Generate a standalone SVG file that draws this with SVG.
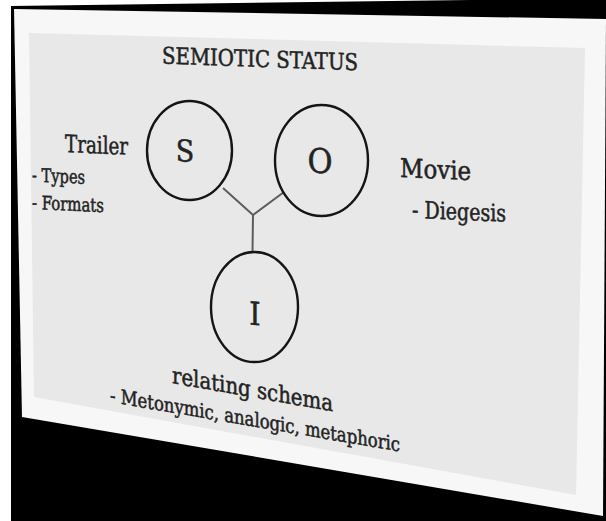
<svg xmlns="http://www.w3.org/2000/svg" width="606" height="521" viewBox="0 0 606 521">
  <defs>
    <style>
      .t { font-family: "DejaVu Serif Condensed", "DejaVu Serif", "Liberation Serif", serif; font-stretch: condensed; fill: #232323; stroke: #232323; stroke-width: 0.5; }
      .ring { fill: none; stroke: #151515; stroke-width: 2.4; }
      .link { fill: none; stroke: #5c5c5c; stroke-width: 2; }
    </style>
  </defs>

  <!-- backdrop and tilted slide -->
  <rect width="606" height="521" fill="#ffffff"/>
  <polygon points="11,6 470,0 606,0 606,521 11,521" fill="#000000"/>
  <polygon id="slide-frame" points="14,9 606,19 603,516 22,417" fill="#f7f7f7"/>
  <polygon id="slide-face" points="29,33 585,48 576,495 34,397" fill="#e8e8e8"/>

  <!-- connectors -->
  <g id="connectors">
    <path class="link" d="M223,188 L253,215 L284,192"/>
    <path class="link" d="M253,215 L252.5,252"/>
  </g>

  <!-- nodes -->
  <g id="node-s">
    <ellipse class="ring" cx="189.5" cy="150.5" rx="42.5" ry="49.5"/>
    <text class="t" transform="translate(185,161.5) skewY(3)" font-size="30" text-anchor="middle">S</text>
  </g>
  <g id="node-o">
    <ellipse class="ring" cx="321.5" cy="160.5" rx="46.5" ry="55.5"/>
    <text class="t" transform="translate(320,173) skewY(3)" font-size="34" text-anchor="middle">O</text>
  </g>
  <g id="node-i">
    <ellipse class="ring" cx="254.5" cy="307" rx="43.5" ry="55"/>
    <text class="t" transform="translate(255,325) skewY(5)" font-size="32" text-anchor="middle">I</text>
  </g>

  <!-- labels -->
  <g id="labels">
    <text class="t" transform="translate(162,63.5) skewY(2)" font-size="23" textLength="196" lengthAdjust="spacingAndGlyphs">SEMIOTIC STATUS</text>
    <text class="t" transform="translate(65,152) skewY(2.5)" font-size="24" textLength="63" lengthAdjust="spacingAndGlyphs">Trailer</text>
    <text class="t" transform="translate(32,181.5) skewY(2.5)" font-size="19" textLength="53" lengthAdjust="spacingAndGlyphs">- Types</text>
    <text class="t" transform="translate(32,209) skewY(2.5)" font-size="19" textLength="72" lengthAdjust="spacingAndGlyphs">- Formats</text>
    <text class="t" transform="translate(400,177) skewY(2.5)" font-size="26" textLength="71" lengthAdjust="spacingAndGlyphs">Movie</text>
    <text class="t" transform="translate(412,218) skewY(2.2)" font-size="24" textLength="94" lengthAdjust="spacingAndGlyphs">- Diegesis</text>
    <text class="t" transform="translate(172,383) skewY(10)" font-size="23" textLength="161" lengthAdjust="spacingAndGlyphs">relating schema</text>
    <text class="t" transform="translate(110,402) skewY(9.7)" font-size="20" textLength="290" lengthAdjust="spacingAndGlyphs">- Metonymic, analogic, metaphoric</text>
  </g>
</svg>
